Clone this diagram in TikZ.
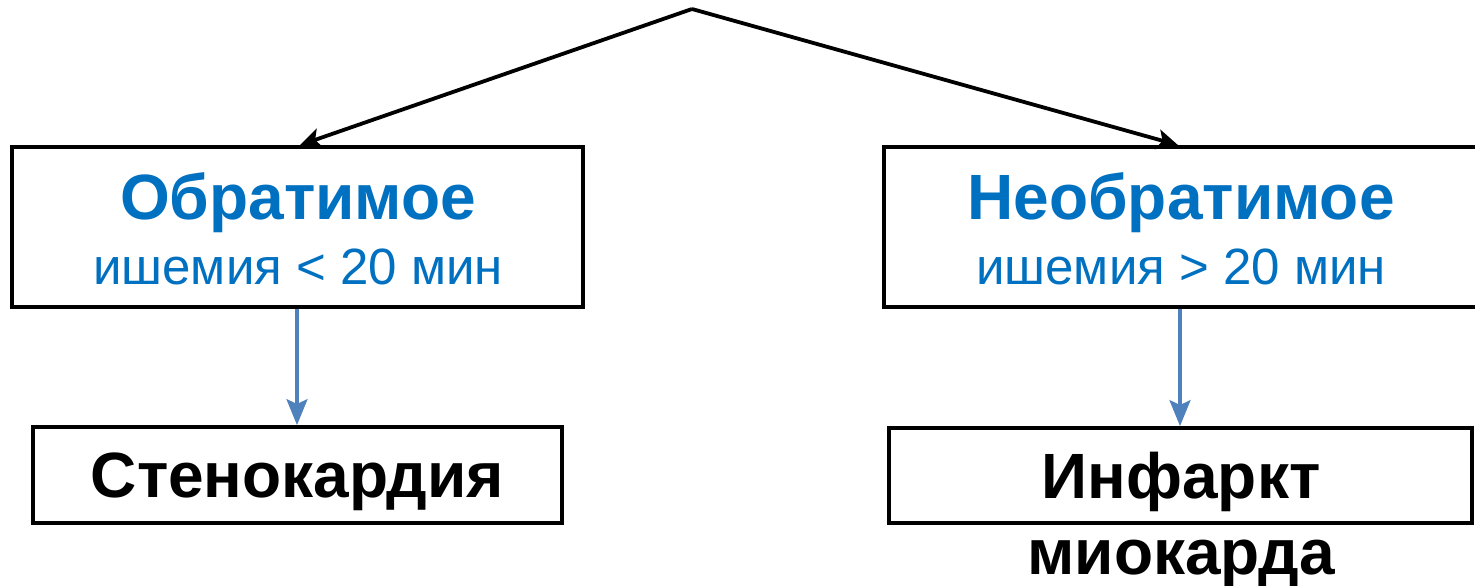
\documentclass[tikz,border=0pt]{standalone}
\usepackage{fontspec}
\setmainfont{Liberation Sans}
\usetikzlibrary{arrows.meta}
\definecolor{titleblue}{HTML}{0070C0}
\definecolor{linkblue}{HTML}{4F81BD}
\tikzset{
  box/.style={draw=black, line width=3.8pt, fill=white, inner sep=0pt},
  title/.style={text=titleblue, font=\fontsize{64}{76}\selectfont\bfseries, anchor=base, inner sep=0pt},
  subtitle/.style={text=titleblue, font=\fontsize{51}{60}\selectfont, anchor=base, inner sep=0pt},
  outcome/.style={text=black, font=\fontsize{64}{76}\selectfont\bfseries, anchor=base, inner sep=0pt},
  branch/.style={draw=black, line width=3.8pt, -{Stealth[length=21pt, width=20pt, inset=5pt]}},
  lead/.style={draw=linkblue, line width=3.5pt, -{Stealth[length=26pt, width=21pt, inset=5pt]}},
}
\begin{document}
\begin{tikzpicture}[x=1pt, y=-1pt]
  \useasboundingbox (0,0) rectangle (1475,586);
  \fill[white] (0,0) rectangle (1475,586);

  % split point
  \coordinate (top) at (692,9);

  % top-level boxes
  \node[box, minimum width=571pt, minimum height=160pt] (rev) at (297.5,227) {};
  \node[box, minimum width=600pt, minimum height=160pt] (irr) at (1184,227) {};

  \node[title] (revT) at (298,219) {Обратимое};
  \node[subtitle] (revS) at (298,284) {ишемия < 20 мин};
  \node[title] (irrT) at (1181,219) {Необратимое};
  \node[subtitle] (irrS) at (1181,284) {ишемия > 20 мин};

  % outcome boxes
  \node[box, minimum width=529pt, minimum height=96pt] (ang) at (297.5,475) {};
  \node[box, minimum width=583pt, minimum height=95pt] (mi) at (1180.5,475.5) {};

  \node[outcome] (angT) at (297.5,497) {Стенокардия};
  \node[outcome] (miT1) at (1181,498) {Инфаркт};
  \node[outcome] (miT2) at (1181,574) {миокарда};

  % connectors
  \draw[branch] (top) -- (rev.north -| 300,0);
  \draw[branch] (top) -- (irr.north -| 1178,0);
  \draw[lead] (rev.south -| 297,0) -- (ang.north -| 297,0);
  \draw[lead] (irr.south -| 1180,0) -- (mi.north -| 1180,0);
\end{tikzpicture}
\end{document}
